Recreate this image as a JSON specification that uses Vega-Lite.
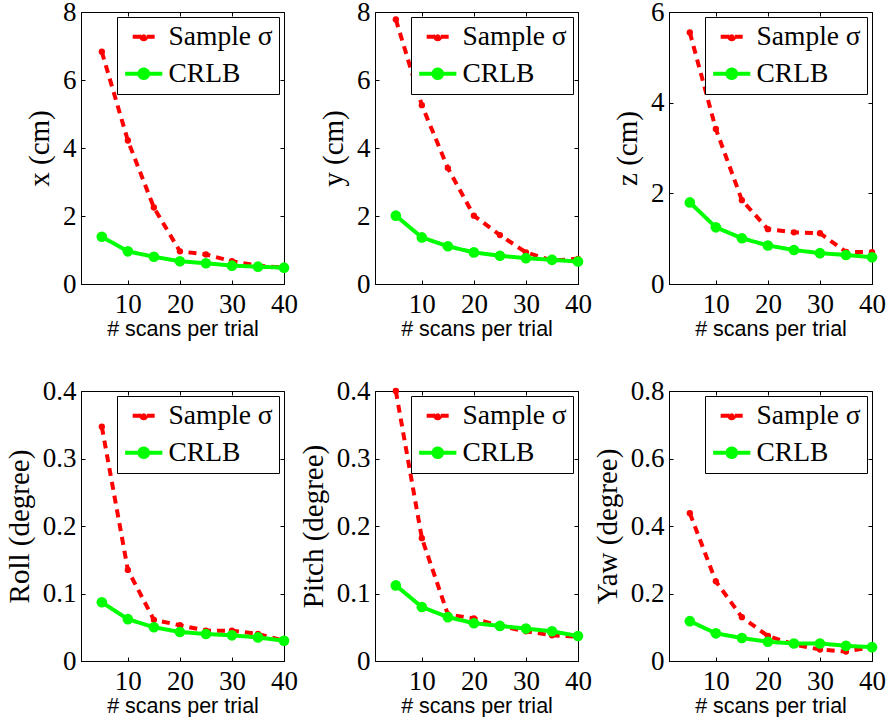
{
"$schema": "https://vega.github.io/schema/vega-lite/v6.json",
"padding": {"left": 4, "top": -3, "right": 5, "bottom": 0},
"background": "white",
"data": {"values": [
{"p":"x","n":5,"s":"Sample σ","v":6.83},{"p":"x","n":10,"s":"Sample σ","v":4.22},{"p":"x","n":15,"s":"Sample σ","v":2.25},{"p":"x","n":20,"s":"Sample σ","v":0.96},{"p":"x","n":25,"s":"Sample σ","v":0.87},{"p":"x","n":30,"s":"Sample σ","v":0.67},{"p":"x","n":35,"s":"Sample σ","v":0.54},{"p":"x","n":40,"s":"Sample σ","v":0.48},
{"p":"x","n":5,"s":"CRLB","v":1.39},{"p":"x","n":10,"s":"CRLB","v":0.96},{"p":"x","n":15,"s":"CRLB","v":0.80},{"p":"x","n":20,"s":"CRLB","v":0.67},{"p":"x","n":25,"s":"CRLB","v":0.61},{"p":"x","n":30,"s":"CRLB","v":0.54},{"p":"x","n":35,"s":"CRLB","v":0.51},{"p":"x","n":40,"s":"CRLB","v":0.48},
{"p":"y","n":5,"s":"Sample σ","v":7.78},{"p":"y","n":10,"s":"Sample σ","v":5.26},{"p":"y","n":15,"s":"Sample σ","v":3.41},{"p":"y","n":20,"s":"Sample σ","v":2.01},{"p":"y","n":25,"s":"Sample σ","v":1.44},{"p":"y","n":30,"s":"Sample σ","v":0.93},{"p":"y","n":35,"s":"Sample σ","v":0.69},{"p":"y","n":40,"s":"Sample σ","v":0.74},
{"p":"y","n":5,"s":"CRLB","v":2.01},{"p":"y","n":10,"s":"CRLB","v":1.37},{"p":"y","n":15,"s":"CRLB","v":1.11},{"p":"y","n":20,"s":"CRLB","v":0.93},{"p":"y","n":25,"s":"CRLB","v":0.83},{"p":"y","n":30,"s":"CRLB","v":0.76},{"p":"y","n":35,"s":"CRLB","v":0.71},{"p":"y","n":40,"s":"CRLB","v":0.66},
{"p":"z","n":5,"s":"Sample σ","v":5.55},{"p":"z","n":10,"s":"Sample σ","v":3.42},{"p":"z","n":15,"s":"Sample σ","v":1.85},{"p":"z","n":20,"s":"Sample σ","v":1.21},{"p":"z","n":25,"s":"Sample σ","v":1.14},{"p":"z","n":30,"s":"Sample σ","v":1.12},{"p":"z","n":35,"s":"Sample σ","v":0.71},{"p":"z","n":40,"s":"Sample σ","v":0.70},
{"p":"z","n":5,"s":"CRLB","v":1.80},{"p":"z","n":10,"s":"CRLB","v":1.25},{"p":"z","n":15,"s":"CRLB","v":1.01},{"p":"z","n":20,"s":"CRLB","v":0.85},{"p":"z","n":25,"s":"CRLB","v":0.75},{"p":"z","n":30,"s":"CRLB","v":0.68},{"p":"z","n":35,"s":"CRLB","v":0.64},{"p":"z","n":40,"s":"CRLB","v":0.59},
{"p":"roll","n":5,"s":"Sample σ","v":0.347},{"p":"roll","n":10,"s":"Sample σ","v":0.135},{"p":"roll","n":15,"s":"Sample σ","v":0.061},{"p":"roll","n":20,"s":"Sample σ","v":0.053},{"p":"roll","n":25,"s":"Sample σ","v":0.045},{"p":"roll","n":30,"s":"Sample σ","v":0.045},{"p":"roll","n":35,"s":"Sample σ","v":0.040},{"p":"roll","n":40,"s":"Sample σ","v":0.030},
{"p":"roll","n":5,"s":"CRLB","v":0.087},{"p":"roll","n":10,"s":"CRLB","v":0.062},{"p":"roll","n":15,"s":"CRLB","v":0.050},{"p":"roll","n":20,"s":"CRLB","v":0.043},{"p":"roll","n":25,"s":"CRLB","v":0.040},{"p":"roll","n":30,"s":"CRLB","v":0.038},{"p":"roll","n":35,"s":"CRLB","v":0.035},{"p":"roll","n":40,"s":"CRLB","v":0.030},
{"p":"pitch","n":5,"s":"Sample σ","v":0.400},{"p":"pitch","n":10,"s":"Sample σ","v":0.182},{"p":"pitch","n":15,"s":"Sample σ","v":0.069},{"p":"pitch","n":20,"s":"Sample σ","v":0.063},{"p":"pitch","n":25,"s":"Sample σ","v":0.052},{"p":"pitch","n":30,"s":"Sample σ","v":0.044},{"p":"pitch","n":35,"s":"Sample σ","v":0.038},{"p":"pitch","n":40,"s":"Sample σ","v":0.036},
{"p":"pitch","n":5,"s":"CRLB","v":0.112},{"p":"pitch","n":10,"s":"CRLB","v":0.080},{"p":"pitch","n":15,"s":"CRLB","v":0.065},{"p":"pitch","n":20,"s":"CRLB","v":0.056},{"p":"pitch","n":25,"s":"CRLB","v":0.052},{"p":"pitch","n":30,"s":"CRLB","v":0.048},{"p":"pitch","n":35,"s":"CRLB","v":0.044},{"p":"pitch","n":40,"s":"CRLB","v":0.037},
{"p":"yaw","n":5,"s":"Sample σ","v":0.438},{"p":"yaw","n":10,"s":"Sample σ","v":0.236},{"p":"yaw","n":15,"s":"Sample σ","v":0.130},{"p":"yaw","n":20,"s":"Sample σ","v":0.074},{"p":"yaw","n":25,"s":"Sample σ","v":0.049},{"p":"yaw","n":30,"s":"Sample σ","v":0.034},{"p":"yaw","n":35,"s":"Sample σ","v":0.028},{"p":"yaw","n":40,"s":"Sample σ","v":0.041},
{"p":"yaw","n":5,"s":"CRLB","v":0.118},{"p":"yaw","n":10,"s":"CRLB","v":0.082},{"p":"yaw","n":15,"s":"CRLB","v":0.068},{"p":"yaw","n":20,"s":"CRLB","v":0.057},{"p":"yaw","n":25,"s":"CRLB","v":0.052},{"p":"yaw","n":30,"s":"CRLB","v":0.052},{"p":"yaw","n":35,"s":"CRLB","v":0.045},{"p":"yaw","n":40,"s":"CRLB","v":0.041}
]},
"columns": 3,
"spacing": {"row": 107, "column": 91},
"bounds": "flush",
"concat": [
{"width": 203, "height": 272, "transform": [{"filter": "datum.p === 'x'"}],
 "layer": [
  {"mark": {"type": "line", "strokeWidth": 4}, "encoding": {
    "x": {"field": "n", "type": "quantitative", "scale": {"domain": [1, 40], "nice": false}, "axis": {"values": [10, 20, 30, 40], "title": "# scans per trial"}},
    "y": {"field": "v", "type": "quantitative", "scale": {"domain": [0, 8], "nice": false}, "axis": {"values": [0, 2, 4, 6, 8], "format": "~g", "title": "x (cm)"}},
    "stroke": {"field": "s", "type": "nominal", "scale": {"domain": ["Sample σ", "CRLB"], "range": ["#ff0000", "#00ff00"]}, "legend": {"title": null, "symbolType": "M-3.5,0H3.5M-0.8,0A0.8,0.8,0,1,0,0.8,0A0.8,0.8,0,1,0,-0.8,0Z"}},
    "strokeDash": {"field": "s", "type": "nominal", "scale": {"domain": ["Sample σ", "CRLB"], "range": [[8, 6], [1, 0]]}, "legend": {"title": null, "symbolType": "M-3.5,0H3.5M-0.8,0A0.8,0.8,0,1,0,0.8,0A0.8,0.8,0,1,0,-0.8,0Z"}}
  }},
  {"mark": {"type": "point", "filled": true, "opacity": 1}, "encoding": {
    "x": {"field": "n", "type": "quantitative", "scale": {"domain": [1, 40], "nice": false}, "axis": {"orient": "top", "values": [10, 20, 30, 40], "labels": false, "domain": false, "title": null}},
    "y": {"field": "v", "type": "quantitative", "scale": {"domain": [0, 8], "nice": false}, "axis": {"orient": "right", "values": [0, 2, 4, 6, 8], "labels": false, "domain": false, "title": null}},
    "fill": {"field": "s", "type": "nominal", "scale": {"domain": ["Sample σ", "CRLB"], "range": ["#ff0000", "#00ff00"]}, "legend": {"title": null, "symbolType": "M-3.5,0H3.5M-0.8,0A0.8,0.8,0,1,0,0.8,0A0.8,0.8,0,1,0,-0.8,0Z"}},
    "size": {"field": "s", "type": "nominal", "scale": {"domain": ["Sample σ", "CRLB"], "range": [40, 113]}, "legend": null}
  }}
 ],
 "resolve": {"axis": {"x": "independent", "y": "independent"}}},
{"width": 203, "height": 272, "transform": [{"filter": "datum.p === 'y'"}],
 "layer": [
  {"mark": {"type": "line", "strokeWidth": 4}, "encoding": {
    "x": {"field": "n", "type": "quantitative", "scale": {"domain": [1, 40], "nice": false}, "axis": {"values": [10, 20, 30, 40], "title": "# scans per trial"}},
    "y": {"field": "v", "type": "quantitative", "scale": {"domain": [0, 8], "nice": false}, "axis": {"values": [0, 2, 4, 6, 8], "format": "~g", "title": "y (cm)"}},
    "stroke": {"field": "s", "type": "nominal", "scale": {"domain": ["Sample σ", "CRLB"], "range": ["#ff0000", "#00ff00"]}, "legend": {"title": null, "symbolType": "M-3.5,0H3.5M-0.8,0A0.8,0.8,0,1,0,0.8,0A0.8,0.8,0,1,0,-0.8,0Z"}},
    "strokeDash": {"field": "s", "type": "nominal", "scale": {"domain": ["Sample σ", "CRLB"], "range": [[8, 6], [1, 0]]}, "legend": {"title": null, "symbolType": "M-3.5,0H3.5M-0.8,0A0.8,0.8,0,1,0,0.8,0A0.8,0.8,0,1,0,-0.8,0Z"}}
  }},
  {"mark": {"type": "point", "filled": true, "opacity": 1}, "encoding": {
    "x": {"field": "n", "type": "quantitative", "scale": {"domain": [1, 40], "nice": false}, "axis": {"orient": "top", "values": [10, 20, 30, 40], "labels": false, "domain": false, "title": null}},
    "y": {"field": "v", "type": "quantitative", "scale": {"domain": [0, 8], "nice": false}, "axis": {"orient": "right", "values": [0, 2, 4, 6, 8], "labels": false, "domain": false, "title": null}},
    "fill": {"field": "s", "type": "nominal", "scale": {"domain": ["Sample σ", "CRLB"], "range": ["#ff0000", "#00ff00"]}, "legend": {"title": null, "symbolType": "M-3.5,0H3.5M-0.8,0A0.8,0.8,0,1,0,0.8,0A0.8,0.8,0,1,0,-0.8,0Z"}},
    "size": {"field": "s", "type": "nominal", "scale": {"domain": ["Sample σ", "CRLB"], "range": [40, 113]}, "legend": null}
  }}
 ],
 "resolve": {"axis": {"x": "independent", "y": "independent"}}},
{"width": 203, "height": 272, "transform": [{"filter": "datum.p === 'z'"}],
 "layer": [
  {"mark": {"type": "line", "strokeWidth": 4}, "encoding": {
    "x": {"field": "n", "type": "quantitative", "scale": {"domain": [1, 40], "nice": false}, "axis": {"values": [10, 20, 30, 40], "title": "# scans per trial"}},
    "y": {"field": "v", "type": "quantitative", "scale": {"domain": [0, 6], "nice": false}, "axis": {"values": [0, 2, 4, 6], "format": "~g", "title": "z (cm)"}},
    "stroke": {"field": "s", "type": "nominal", "scale": {"domain": ["Sample σ", "CRLB"], "range": ["#ff0000", "#00ff00"]}, "legend": {"title": null, "symbolType": "M-3.5,0H3.5M-0.8,0A0.8,0.8,0,1,0,0.8,0A0.8,0.8,0,1,0,-0.8,0Z"}},
    "strokeDash": {"field": "s", "type": "nominal", "scale": {"domain": ["Sample σ", "CRLB"], "range": [[8, 6], [1, 0]]}, "legend": {"title": null, "symbolType": "M-3.5,0H3.5M-0.8,0A0.8,0.8,0,1,0,0.8,0A0.8,0.8,0,1,0,-0.8,0Z"}}
  }},
  {"mark": {"type": "point", "filled": true, "opacity": 1}, "encoding": {
    "x": {"field": "n", "type": "quantitative", "scale": {"domain": [1, 40], "nice": false}, "axis": {"orient": "top", "values": [10, 20, 30, 40], "labels": false, "domain": false, "title": null}},
    "y": {"field": "v", "type": "quantitative", "scale": {"domain": [0, 6], "nice": false}, "axis": {"orient": "right", "values": [0, 2, 4, 6], "labels": false, "domain": false, "title": null}},
    "fill": {"field": "s", "type": "nominal", "scale": {"domain": ["Sample σ", "CRLB"], "range": ["#ff0000", "#00ff00"]}, "legend": {"title": null, "symbolType": "M-3.5,0H3.5M-0.8,0A0.8,0.8,0,1,0,0.8,0A0.8,0.8,0,1,0,-0.8,0Z"}},
    "size": {"field": "s", "type": "nominal", "scale": {"domain": ["Sample σ", "CRLB"], "range": [40, 113]}, "legend": null}
  }}
 ],
 "resolve": {"axis": {"x": "independent", "y": "independent"}}},
{"width": 203, "height": 270, "transform": [{"filter": "datum.p === 'roll'"}],
 "layer": [
  {"mark": {"type": "line", "strokeWidth": 4}, "encoding": {
    "x": {"field": "n", "type": "quantitative", "scale": {"domain": [1, 40], "nice": false}, "axis": {"values": [10, 20, 30, 40], "title": "# scans per trial"}},
    "y": {"field": "v", "type": "quantitative", "scale": {"domain": [0, 0.4], "nice": false}, "axis": {"values": [0, 0.1, 0.2, 0.3, 0.4], "format": "~g", "title": "Roll (degree)"}},
    "stroke": {"field": "s", "type": "nominal", "scale": {"domain": ["Sample σ", "CRLB"], "range": ["#ff0000", "#00ff00"]}, "legend": {"title": null, "symbolType": "M-3.5,0H3.5M-0.8,0A0.8,0.8,0,1,0,0.8,0A0.8,0.8,0,1,0,-0.8,0Z"}},
    "strokeDash": {"field": "s", "type": "nominal", "scale": {"domain": ["Sample σ", "CRLB"], "range": [[8, 6], [1, 0]]}, "legend": {"title": null, "symbolType": "M-3.5,0H3.5M-0.8,0A0.8,0.8,0,1,0,0.8,0A0.8,0.8,0,1,0,-0.8,0Z"}}
  }},
  {"mark": {"type": "point", "filled": true, "opacity": 1}, "encoding": {
    "x": {"field": "n", "type": "quantitative", "scale": {"domain": [1, 40], "nice": false}, "axis": {"orient": "top", "values": [10, 20, 30, 40], "labels": false, "domain": false, "title": null}},
    "y": {"field": "v", "type": "quantitative", "scale": {"domain": [0, 0.4], "nice": false}, "axis": {"orient": "right", "values": [0, 0.1, 0.2, 0.3, 0.4], "labels": false, "domain": false, "title": null}},
    "fill": {"field": "s", "type": "nominal", "scale": {"domain": ["Sample σ", "CRLB"], "range": ["#ff0000", "#00ff00"]}, "legend": {"title": null, "symbolType": "M-3.5,0H3.5M-0.8,0A0.8,0.8,0,1,0,0.8,0A0.8,0.8,0,1,0,-0.8,0Z"}},
    "size": {"field": "s", "type": "nominal", "scale": {"domain": ["Sample σ", "CRLB"], "range": [40, 113]}, "legend": null}
  }}
 ],
 "resolve": {"axis": {"x": "independent", "y": "independent"}}},
{"width": 203, "height": 270, "transform": [{"filter": "datum.p === 'pitch'"}],
 "layer": [
  {"mark": {"type": "line", "strokeWidth": 4}, "encoding": {
    "x": {"field": "n", "type": "quantitative", "scale": {"domain": [1, 40], "nice": false}, "axis": {"values": [10, 20, 30, 40], "title": "# scans per trial"}},
    "y": {"field": "v", "type": "quantitative", "scale": {"domain": [0, 0.4], "nice": false}, "axis": {"values": [0, 0.1, 0.2, 0.3, 0.4], "format": "~g", "title": "Pitch (degree)"}},
    "stroke": {"field": "s", "type": "nominal", "scale": {"domain": ["Sample σ", "CRLB"], "range": ["#ff0000", "#00ff00"]}, "legend": {"title": null, "symbolType": "M-3.5,0H3.5M-0.8,0A0.8,0.8,0,1,0,0.8,0A0.8,0.8,0,1,0,-0.8,0Z"}},
    "strokeDash": {"field": "s", "type": "nominal", "scale": {"domain": ["Sample σ", "CRLB"], "range": [[8, 6], [1, 0]]}, "legend": {"title": null, "symbolType": "M-3.5,0H3.5M-0.8,0A0.8,0.8,0,1,0,0.8,0A0.8,0.8,0,1,0,-0.8,0Z"}}
  }},
  {"mark": {"type": "point", "filled": true, "opacity": 1}, "encoding": {
    "x": {"field": "n", "type": "quantitative", "scale": {"domain": [1, 40], "nice": false}, "axis": {"orient": "top", "values": [10, 20, 30, 40], "labels": false, "domain": false, "title": null}},
    "y": {"field": "v", "type": "quantitative", "scale": {"domain": [0, 0.4], "nice": false}, "axis": {"orient": "right", "values": [0, 0.1, 0.2, 0.3, 0.4], "labels": false, "domain": false, "title": null}},
    "fill": {"field": "s", "type": "nominal", "scale": {"domain": ["Sample σ", "CRLB"], "range": ["#ff0000", "#00ff00"]}, "legend": {"title": null, "symbolType": "M-3.5,0H3.5M-0.8,0A0.8,0.8,0,1,0,0.8,0A0.8,0.8,0,1,0,-0.8,0Z"}},
    "size": {"field": "s", "type": "nominal", "scale": {"domain": ["Sample σ", "CRLB"], "range": [40, 113]}, "legend": null}
  }}
 ],
 "resolve": {"axis": {"x": "independent", "y": "independent"}}},
{"width": 203, "height": 270, "transform": [{"filter": "datum.p === 'yaw'"}],
 "layer": [
  {"mark": {"type": "line", "strokeWidth": 4}, "encoding": {
    "x": {"field": "n", "type": "quantitative", "scale": {"domain": [1, 40], "nice": false}, "axis": {"values": [10, 20, 30, 40], "title": "# scans per trial"}},
    "y": {"field": "v", "type": "quantitative", "scale": {"domain": [0, 0.8], "nice": false}, "axis": {"values": [0, 0.2, 0.4, 0.6, 0.8], "format": "~g", "title": "Yaw (degree)"}},
    "stroke": {"field": "s", "type": "nominal", "scale": {"domain": ["Sample σ", "CRLB"], "range": ["#ff0000", "#00ff00"]}, "legend": {"title": null, "symbolType": "M-3.5,0H3.5M-0.8,0A0.8,0.8,0,1,0,0.8,0A0.8,0.8,0,1,0,-0.8,0Z"}},
    "strokeDash": {"field": "s", "type": "nominal", "scale": {"domain": ["Sample σ", "CRLB"], "range": [[8, 6], [1, 0]]}, "legend": {"title": null, "symbolType": "M-3.5,0H3.5M-0.8,0A0.8,0.8,0,1,0,0.8,0A0.8,0.8,0,1,0,-0.8,0Z"}}
  }},
  {"mark": {"type": "point", "filled": true, "opacity": 1}, "encoding": {
    "x": {"field": "n", "type": "quantitative", "scale": {"domain": [1, 40], "nice": false}, "axis": {"orient": "top", "values": [10, 20, 30, 40], "labels": false, "domain": false, "title": null}},
    "y": {"field": "v", "type": "quantitative", "scale": {"domain": [0, 0.8], "nice": false}, "axis": {"orient": "right", "values": [0, 0.2, 0.4, 0.6, 0.8], "labels": false, "domain": false, "title": null}},
    "fill": {"field": "s", "type": "nominal", "scale": {"domain": ["Sample σ", "CRLB"], "range": ["#ff0000", "#00ff00"]}, "legend": {"title": null, "symbolType": "M-3.5,0H3.5M-0.8,0A0.8,0.8,0,1,0,0.8,0A0.8,0.8,0,1,0,-0.8,0Z"}},
    "size": {"field": "s", "type": "nominal", "scale": {"domain": ["Sample σ", "CRLB"], "range": [40, 113]}, "legend": null}
  }}
 ],
 "resolve": {"axis": {"x": "independent", "y": "independent"}}}
],
"resolve": {"scale": {"stroke": "independent", "strokeDash": "independent", "fill": "independent", "size": "independent"}, "legend": {"stroke": "independent", "strokeDash": "independent", "fill": "independent"}},
"config": {
 "view": {"stroke": "black", "strokeWidth": 1},
 "font": "Liberation Serif",
 "axis": {"grid": false, "domainColor": "black", "domainWidth": 1, "tickColor": "black", "tickSize": -4, "tickWidth": 1, "labelFont": "Liberation Serif", "labelFontSize": 27, "labelColor": "black", "labelFlush": false, "labelOverlap": false, "titleFont": "Liberation Serif", "titleFontSize": 29, "titleFontWeight": "normal", "titleColor": "black"},
 "axisX": {"labelPadding": 11, "titleFont": "Liberation Sans", "titleFontSize": 21.5, "titlePadding": 1},
 "axisY": {"labelPadding": 9, "titlePadding": 8},
 "legend": {"orient": "top-right", "offset": 5, "strokeColor": "black", "fillColor": "white", "padding": 6, "labelFont": "Liberation Serif", "labelFontSize": 27.5, "labelColor": "black", "labelOffset": 11, "symbolOffset": 7, "symbolSize": 400, "symbolStrokeWidth": 4, "rowPadding": 8}
}
}
